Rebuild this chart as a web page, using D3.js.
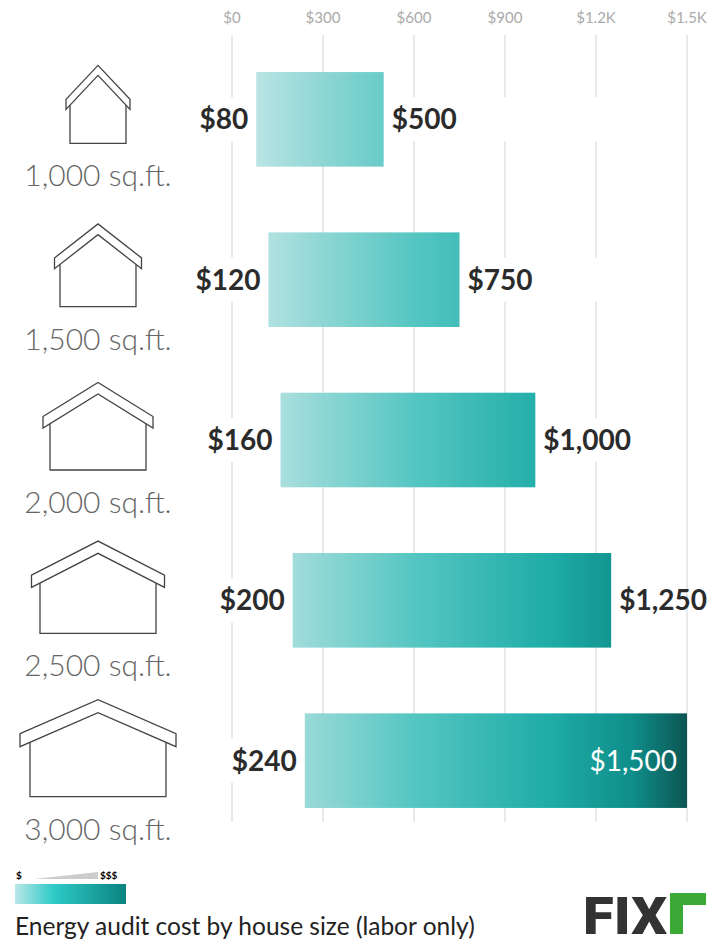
<!DOCTYPE html>
<html><head><meta charset="utf-8">
<script src="https://cdn.jsdelivr.net/npm/d3@7"></script>
<style>body{margin:0;background:#fff}svg{display:block;font-family:Lato,"Open Sans",sans-serif}</style>
</head><body>
<svg id="c" width="720" height="951"></svg>
<script>
// house sizes and labor cost range
const sizes = ['1,000 sq.ft.', '1,500 sq.ft.', '2,000 sq.ft.', '2,500 sq.ft.', '3,000 sq.ft.'];
const sqft = [1000, 1500, 2000, 2500, 3000];
const low = [80, 120, 160, 200, 240];
const high = [500, 750, 1000, 1250, 1500];
const ticks = [0, 300, 600, 900, 1200, 1500];
const tickLabels = ['$0', '$300', '$600', '$900', '$1.2K', '$1.5K'];

const svg = d3.select('#c');
const x = d3.scaleLinear().domain([0, 1500]).range([232, 687]);
const y = d3.scaleBand().domain(sizes).range([40, 840]).paddingInner(0.41).paddingOuter(0.2);

const defs = svg.append('defs');
const g = defs.append('linearGradient').attr('id', 'grad').attr('gradientUnits', 'userSpaceOnUse')
  .attr('x1', x(0)).attr('x2', x(1500)).attr('y1', 0).attr('y2', 0);
[[0, '#c8e9e9'], [0.2, '#8ed6d4'], [0.4, '#55c6c2'], [0.7, '#1eaca7'], [0.88, '#0f8e8a'], [1, '#0c5553']]
  .forEach(s => g.append('stop').attr('offset', s[0]).attr('stop-color', s[1]));
const lg = defs.append('linearGradient').attr('id', 'lgrad');
[[0, '#b9e8e8'], [0.35, '#2ecac6'], [1, '#0a8380']]
  .forEach(s => lg.append('stop').attr('offset', s[0]).attr('stop-color', s[1]));

// grid + tick labels
svg.selectAll('.grid').data(ticks).join('line')
  .attr('x1', d => x(d)).attr('x2', d => x(d)).attr('y1', 35).attr('y2', 822)
  .attr('stroke', '#dedede').attr('stroke-width', 1.3);
svg.selectAll('.tl').data(ticks).join('text')
  .attr('x', d => x(d)).attr('y', 23).attr('text-anchor', 'middle')
  .attr('font-size', 15).attr('fill', '#aaa').text((d, i) => tickLabels[i]);

const rows = svg.selectAll('.row').data(sizes).join('g');
const bh = y.bandwidth();

// white gaps in gridlines behind value labels
rows.append('rect').attr('x', 180).attr('width', 500)
  .attr('y', d => y(d) + bh / 2 - 22).attr('height', 44).attr('fill', '#fff');

rows.append('rect')
  .attr('x', (d, i) => x(low[i])).attr('width', (d, i) => x(high[i]) - x(low[i]))
  .attr('y', d => y(d)).attr('height', bh).attr('fill', 'url(#grad)');

rows.append('text').attr('x', (d, i) => x(low[i]) - 8).attr('y', d => y(d) + bh / 2 + 10)
  .attr('text-anchor', 'end').attr('font-size', 28).attr('font-weight', 700).attr('fill', '#2b2b2b')
  .text((d, i) => '$' + d3.format(',')(low[i]));
rows.append('text')
  .attr('x', (d, i) => i === 4 ? x(high[i]) - 10 : x(high[i]) + 8)
  .attr('y', d => y(d) + bh / 2 + 10)
  .attr('text-anchor', (d, i) => i === 4 ? 'end' : 'start')
  .attr('font-size', 28).attr('font-weight', (d, i) => i === 4 ? 400 : 700)
  .attr('fill', (d, i) => i === 4 ? '#fff' : '#2b2b2b')
  .text((d, i) => '$' + d3.format(',')(high[i]));

// house icons, growing with floor area
rows.each(function(d, i) {
  const r = d3.select(this);
  const k = (sqft[i] - 1000) / 2000;
  const w = 64 + k * 92;
  const cx = 98;
  const mid = y(d) + bh / 2;
  const apex = mid - 54 - k * 7;
  const eave = apex + 34;
  const t = 10 + k * 3;
  const base = eave + 44 + k * 19;
  const x0 = cx - w / 2, x1 = cx + w / 2;
  const slope = (eave - apex) / (w / 2);
  const p = d3.path();
  p.moveTo(x0, eave); p.lineTo(cx, apex); p.lineTo(x1, eave); p.lineTo(x1, eave + t);
  p.lineTo(cx, apex + t); p.lineTo(x0, eave + t); p.closePath();
  r.append('path').attr('d', p.toString()).attr('fill', '#fff').attr('stroke', '#444').attr('stroke-width', 1.3);
  const inset = 4 + k * 6, by = eave + t - slope * inset;
  r.append('path').attr('d', `M${x0 + inset},${by}V${base}H${x1 - inset}V${by}`)
    .attr('fill', 'none').attr('stroke', '#444').attr('stroke-width', 1.3);
  r.append('text').attr('x', cx).attr('y', base + 43).attr('text-anchor', 'middle')
    .attr('font-size', 30).attr('font-weight', 300).attr('fill', '#666').text(d);
});

// legend
svg.append('text').attr('x', 16).attr('y', 879).attr('font-size', 10).attr('font-weight', 700).text('$');
svg.append('text').attr('x', 100).attr('y', 879).attr('font-size', 10).attr('font-weight', 700).text('$$$');
svg.append('path').attr('d', 'M34,879L98,872V879Z').attr('fill', '#ccc');
svg.append('rect').attr('x', 15).attr('y', 884).attr('width', 111).attr('height', 20).attr('fill', 'url(#lgrad)');
svg.append('text').attr('x', 15).attr('y', 935).attr('font-size', 24.5).attr('fill', '#222')
  .text('Energy audit cost by house size (labor only)');

// logo
svg.append('text').attr('x', 583).attr('y', 934).attr('font-size', 52).attr('font-weight', 900)
  .attr('fill', '#333').attr('font-family', 'Roboto,sans-serif').attr('textLength', 84)
  .attr('lengthAdjust', 'spacingAndGlyphs').text('FIX');
svg.append('path').attr('d', 'M670,934V893H706V905H683V934Z').attr('fill', '#3aa935');
</script>
</body></html>
